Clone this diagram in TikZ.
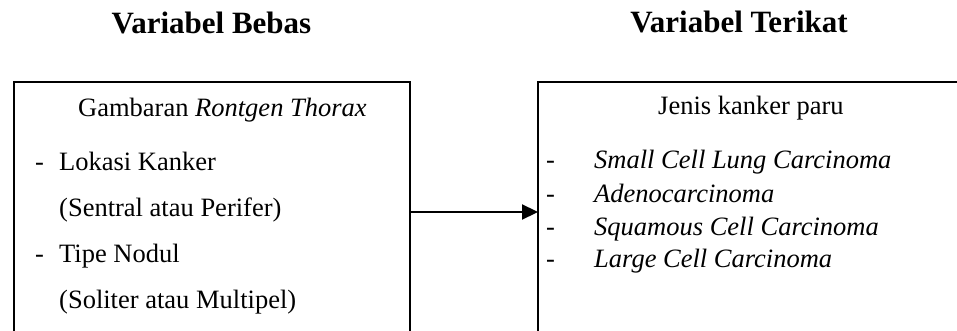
\documentclass[tikz,border=0pt]{standalone}
\usepackage{fontspec}
\setmainfont{Liberation Serif}
\usetikzlibrary{arrows.meta}
\tikzset{
  boxframe/.style={draw=black, line width=2pt, inner sep=0pt, anchor=north west},
  bodytext/.style={inner sep=0pt, anchor=base west, font=\fontsize{26.5}{30}\selectfont},
  titletext/.style={inner sep=0pt, anchor=base, font=\fontsize{31}{36}\selectfont\bfseries},
  link/.style={line width=2.2pt, -{Triangle[length=16pt,width=15pt]}, shorten >=-1pt}
}
\begin{document}
\begin{tikzpicture}[x=1pt,y=-1pt]
\useasboundingbox (0,0) rectangle (957,331);
\clip (0,0) rectangle (957,331);
% titles
\node[titletext] (t1) at (211.5,34) {Variabel Bebas};
\node[titletext] (t2) at (739,33) {Variabel Terikat};
% boxes
\node[boxframe, minimum width=396pt, minimum height=300pt] (lbox) at (13,81) {};
\node[boxframe, minimum width=460pt, minimum height=300pt] (rbox) at (537,81) {};
% left texts
\node[bodytext] (l0) at (78,117) {Gambaran \textit{Rontgen Thorax}};
\node[bodytext] (l1d) at (35,171) {-};
\node[bodytext] (l1) at (59,171) {Lokasi Kanker};
\node[bodytext] (l2) at (59,216) {(Sentral atau Perifer)};
\node[bodytext] (l3d) at (35,262) {-};
\node[bodytext] (l3) at (59,262) {Tipe Nodul};
\node[bodytext] (l4) at (59,308) {(Soliter atau Multipel)};
% right texts
\node[bodytext] (r0) at (658,115) {Jenis kanker paru};
\node[bodytext] (r1d) at (546,168) {-};
\node[bodytext] (r1) at (594,168) {\textit{Small Cell Lung Carcinoma}};
\node[bodytext] (r2d) at (546,202) {-};
\node[bodytext] (r2) at (594,202) {\textit{Adenocarcinoma}};
\node[bodytext] (r3d) at (546,235) {-};
\node[bodytext] (r3) at (594,235) {\textit{Squamous Cell Carcinoma}};
\node[bodytext] (r4d) at (546,267) {-};
\node[bodytext] (r4) at (594,267) {\textit{Large Cell Carcinoma}};
% connector
\coordinate (arr) at (0,212);
\draw[link] (lbox.east |- arr) -- (rbox.west |- arr);
\end{tikzpicture}
\end{document}
